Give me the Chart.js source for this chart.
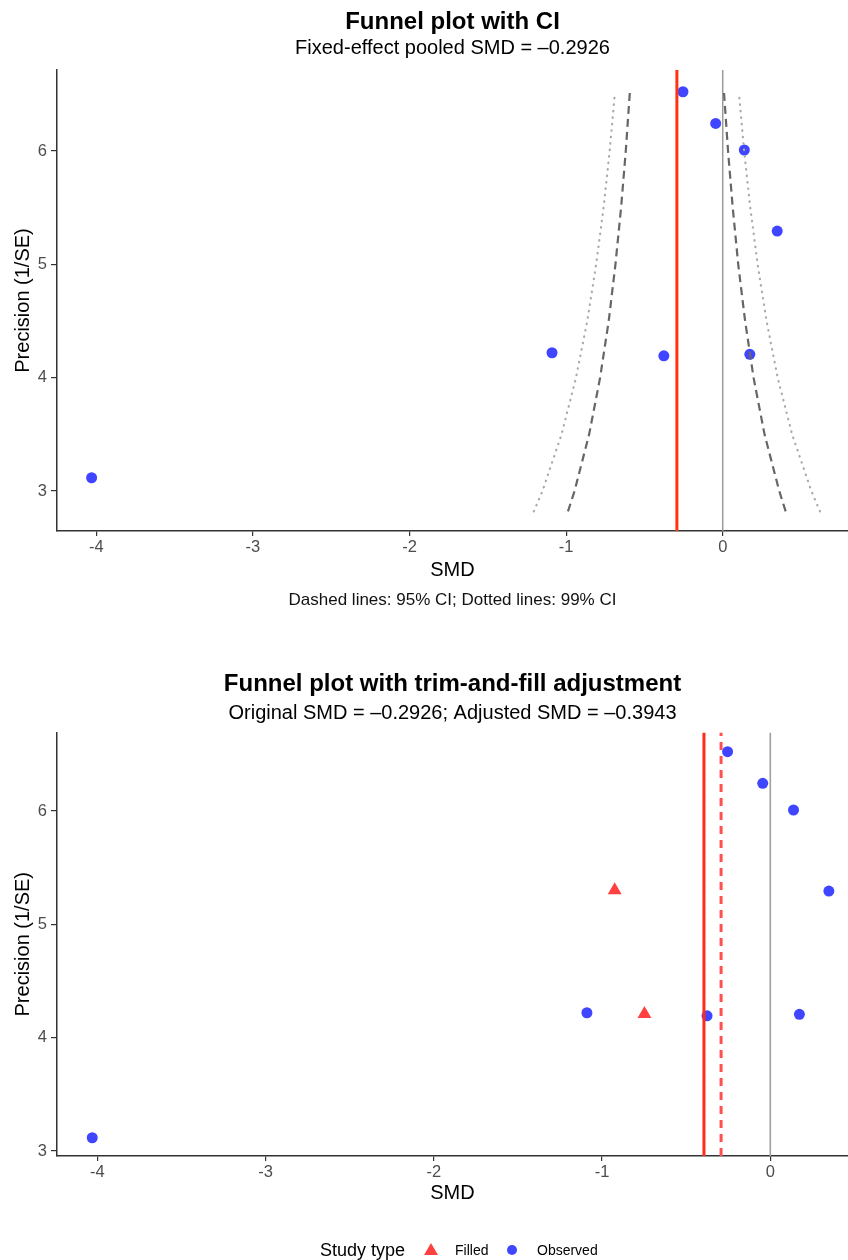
<!DOCTYPE html>
<html><head><meta charset="utf-8">
<script src="https://cdn.jsdelivr.net/npm/chart.js@4.4.1/dist/chart.umd.min.js"></script>
<style>
html,body{margin:0;padding:0;background:#fff;}
#page{position:relative;width:848px;height:1260px;overflow:hidden;font-family:"Liberation Sans",Arial,sans-serif;background:#fff;}
.box{position:absolute;left:0;width:848px;}
#topBox{top:0;height:620px;}
#botBox{top:620px;height:640px;}
.txt{position:absolute;white-space:nowrap;color:#000;}
</style></head><body>
<div id="page">
  <div id="topBox" class="box"><canvas id="c1"></canvas></div>
  <div id="botBox" class="box"><canvas id="c2"></canvas></div>
  <div class="txt" style="left:57px;width:791px;text-align:center;top:589px;font-size:17px;line-height:22px;color:#111;">Dashed lines: 95% CI; Dotted lines: 99% CI</div>
  <div class="txt" style="left:320px;top:1239px;font-size:18px;line-height:22px;">Study type</div>
  <svg style="position:absolute;left:424px;top:1243px;" width="14" height="12"><polygon points="7,0 14,12 0,12" fill="#ff4040"/></svg>
  <div class="txt" style="left:455px;top:1241px;font-size:14px;line-height:18px;">Filled</div>
  <div style="position:absolute;left:507px;top:1245px;width:10px;height:10px;border-radius:50%;background:#4046ff;"></div>
  <div class="txt" style="left:537px;top:1241px;font-size:14px;line-height:18px;">Observed</div>
</div>
<script>
// ---- data ----
const xTicks = [-4, -3, -2, -1, 0];
const xTickLabels = ['-4', '-3', '-2', '-1', '0'];
const yTicks = [3, 4, 5, 6];
const yTickLabels = ['3', '4', '5', '6'];

const observedSMD = [-0.254, -0.045, 0.138, 0.348, -1.090, -0.376, 0.173, -4.030];
const observedPrecision = [6.523, 6.244, 6.009, 5.294, 4.220, 4.193, 4.206, 3.117];

const filledSMD = [-0.925, -0.748];
const filledPrecision = [5.300, 4.210];

const pooledSMD = -0.2926;
const adjustedSMD = -0.3943;

const ciPrecision = [2.82, 3.0, 3.5, 4.0, 4.5, 5.0, 5.5, 6.0, 6.52];
const ci95Lower = [-0.988, -0.946, -0.853, -0.783, -0.728, -0.685, -0.649, -0.619, -0.593];
const ci95Upper = [0.402, 0.361, 0.267, 0.197, 0.143, 0.099, 0.064, 0.034, 0.008];
const ci99Lower = [-1.206, -1.151, -1.029, -0.937, -0.865, -0.808, -0.761, -0.722, -0.688];
const ci99Upper = [0.621, 0.566, 0.443, 0.351, 0.280, 0.223, 0.176, 0.137, 0.103];

// axis limits
const topX = [-4.251, 0.800];
const topY = [2.647, 6.715];
const botX = [-4.2395, 0.4618];
const botY = [2.956, 6.6927];

Chart.defaults.font.family = '"Liberation Sans", Arial, sans-serif';
Chart.defaults.animation = false;

const pts = (xs, ys) => xs.map((x, i) => ({x: x, y: ys[i]}));
const vline = (x, yr) => [{x: x, y: yr[0]}, {x: x, y: yr[1]}];

function scales(xr, yr, xH) {
  return {
    x: {
      type: 'linear', min: xr[0], max: xr[1],
      afterBuildTicks: s => { s.ticks = xTicks.map(v => ({value: v})); },
      afterFit: s => { s.height = xH; s.paddingLeft = 0; s.paddingRight = 0; },
      ticks: {color: '#4d4d4d', font: {size: 16.5}, padding: 2, maxRotation: 0, autoSkip: false,
              callback: (v, i) => xTickLabels[i]},
      grid: {display: true, drawOnChartArea: false, drawTicks: true, tickLength: 5, color: '#333', lineWidth: 1.2},
      border: {display: true, color: '#333', width: 1.5},
      title: {display: true, text: 'SMD', color: '#000', font: {size: 20}, padding: {top: 0, bottom: 0}}
    },
    y: {
      type: 'linear', min: yr[0], max: yr[1],
      afterBuildTicks: s => { s.ticks = yTicks.map(v => ({value: v})); },
      afterFit: s => { s.width = 57; s.paddingTop = 0; s.paddingBottom = 0; },
      ticks: {color: '#4d4d4d', font: {size: 16.5}, padding: 4, autoSkip: false,
              callback: (v, i) => yTickLabels[i]},
      grid: {display: true, drawOnChartArea: false, drawTicks: true, tickLength: 6, color: '#333', lineWidth: 1.2},
      border: {display: true, color: '#333', width: 1.5},
      title: {display: true, text: 'Precision (1/SE)', color: '#000', font: {size: 20}, padding: {top: 11, bottom: 0}}
    }
  };
}

function lineDs(data, color, width, dash, cap) {
  return {type: 'scatter', data: data, showLine: true, pointRadius: 0, pointHoverRadius: 0,
          borderColor: color, borderWidth: width, borderDash: dash || [], borderCapStyle: cap || 'butt', fill: false};
}

// ---- top chart ----
new Chart(document.getElementById('c1'), {
  type: 'scatter',
  data: {datasets: [
    lineDs(vline(pooledSMD, topY), '#ff3311', 3),
    lineDs(pts(ci95Lower, ciPrecision), '#666666', 2.2, [8, 5]),
    lineDs(pts(ci95Upper, ciPrecision), '#666666', 2.2, [8, 5]),
    lineDs(pts(ci99Lower, ciPrecision), '#aaaaaa', 2.2, [0.5, 6], 'round'),
    lineDs(pts(ci99Upper, ciPrecision), '#aaaaaa', 2.2, [0.5, 6], 'round'),
    {type: 'scatter', data: pts(observedSMD, observedPrecision), pointRadius: 5.5, pointHoverRadius: 5.5,
     backgroundColor: '#4046ff', borderWidth: 0, pointStyle: 'circle'},
    lineDs(vline(0, topY), '#9a9a9a', 1.5)
  ]},
  options: {
    responsive: true, maintainAspectRatio: false, events: [],
    layout: {autoPadding: false, padding: {top: 0, left: 0, right: 0, bottom: 38}},
    plugins: {
      legend: {display: false}, tooltip: {enabled: false},
      title: {display: true, fullSize: false, text: 'Funnel plot with CI', color: '#000',
              font: {size: 24, weight: 'bold'}, padding: {top: 8, bottom: 0}},
      subtitle: {display: true, fullSize: false, text: 'Fixed-effect pooled SMD = \u20130.2926', color: '#000',
                 font: {size: 20}, padding: {top: 0, bottom: 9.2}}
    },
    scales: scales(topX, topY, 51)
  }
});

// ---- bottom chart ----
new Chart(document.getElementById('c2'), {
  type: 'scatter',
  data: {datasets: [
    lineDs(vline(adjustedSMD, botY), '#ff2a1a', 3),
    lineDs(vline(pooledSMD, botY), '#ff5050', 3, [8, 6]),
    {type: 'scatter', data: pts(filledSMD, filledPrecision), pointRadius: 8, pointHoverRadius: 8,
     backgroundColor: '#ff4040', borderWidth: 0, pointStyle: 'triangle'},
    {type: 'scatter', data: pts(observedSMD, observedPrecision), pointRadius: 5.5, pointHoverRadius: 5.5,
     backgroundColor: '#4046ff', borderWidth: 0, pointStyle: 'circle'},
    lineDs(vline(0, botY), '#a0a0a0', 1.6)
  ]},
  options: {
    responsive: true, maintainAspectRatio: false, events: [],
    layout: {autoPadding: false, padding: {top: 0, left: 0, right: 0, bottom: 55}},
    plugins: {
      legend: {display: false}, tooltip: {enabled: false},
      title: {display: true, fullSize: false, text: 'Funnel plot with trim-and-fill adjustment', color: '#000',
              font: {size: 24, weight: 'bold'}, padding: {top: 50, bottom: 0}},
      subtitle: {display: true, fullSize: false, text: 'Original SMD = \u20130.2926; Adjusted SMD = \u20130.3943', color: '#000',
                 font: {size: 20}, padding: {top: 2.2, bottom: 7.5}}
    },
    scales: scales(botX, botY, 49)
  }
});
</script>
</body></html>
